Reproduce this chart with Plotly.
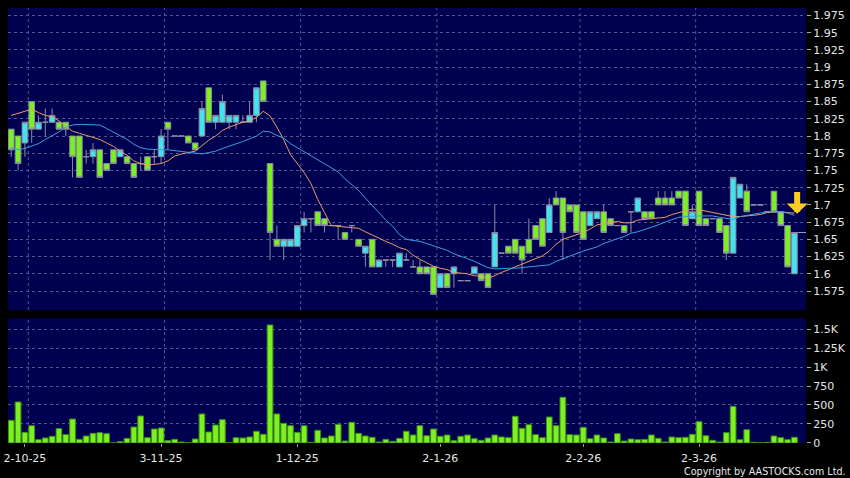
import plotly.graph_objects as go

# daily bars, oldest first (cyan = close above open, green = close below open)
opens = [1.81, 1.80, 1.79, 1.85, 1.81, 1.82, 1.82, 1.82, 1.82, 1.80,
         1.80, 1.77, 1.77, 1.78, 1.76, 1.78, 1.77, 1.77, 1.76, 1.76,
         1.77, 1.77, 1.77, 1.82, 1.80, 1.80, 1.80, 1.79, 1.80, 1.87,
         1.82, 1.82, 1.82, 1.82, 1.82, 1.82, 1.83, 1.88, 1.76, 1.65,
         1.64, 1.64, 1.64, 1.67, 1.68, 1.69, 1.68, 1.67, 1.67, 1.66,
         1.67, 1.65, 1.63, 1.65, 1.61, 1.62, 1.62, 1.61, 1.62, 1.61,
         1.61, 1.61, 1.61, 1.58, 1.60, 1.60, 1.59, 1.59, 1.60, 1.60,
         1.60, 1.61, 1.63, 1.64, 1.65, 1.64, 1.65, 1.67, 1.68, 1.66,
         1.71, 1.71, 1.70, 1.70, 1.69, 1.67, 1.68, 1.69, 1.68, 1.67,
         1.67, 1.69, 1.69, 1.69, 1.69, 1.71, 1.71, 1.71, 1.72, 1.72,
         1.68, 1.72, 1.68, 1.68, 1.68, 1.67, 1.63, 1.71, 1.72, 1.70,
         1.70, 1.69, 1.72, 1.69, 1.67, 1.60]
highs = [1.81, 1.80, 1.82, 1.85, 1.83, 1.84, 1.84, 1.82, 1.82, 1.80,
         1.80, 1.78, 1.79, 1.78, 1.76, 1.78, 1.78, 1.77, 1.76, 1.77,
         1.77, 1.78, 1.81, 1.82, 1.80, 1.80, 1.80, 1.79, 1.85, 1.87,
         1.83, 1.86, 1.83, 1.83, 1.83, 1.85, 1.87, 1.88, 1.76, 1.67,
         1.65, 1.65, 1.67, 1.69, 1.68, 1.69, 1.68, 1.67, 1.67, 1.66,
         1.67, 1.65, 1.64, 1.65, 1.62, 1.62, 1.62, 1.63, 1.63, 1.62,
         1.62, 1.61, 1.61, 1.60, 1.60, 1.61, 1.59, 1.59, 1.61, 1.60,
         1.60, 1.70, 1.63, 1.64, 1.65, 1.64, 1.68, 1.67, 1.68, 1.71,
         1.72, 1.71, 1.70, 1.70, 1.69, 1.69, 1.69, 1.70, 1.68, 1.67,
         1.67, 1.69, 1.71, 1.69, 1.69, 1.72, 1.72, 1.72, 1.72, 1.72,
         1.70, 1.72, 1.68, 1.68, 1.68, 1.67, 1.74, 1.73, 1.73, 1.70,
         1.70, 1.69, 1.72, 1.69, 1.67, 1.66]
lows = [1.77, 1.75, 1.77, 1.79, 1.81, 1.80, 1.82, 1.81, 1.80, 1.74,
        1.74, 1.76, 1.76, 1.74, 1.75, 1.76, 1.77, 1.76, 1.74, 1.75,
        1.75, 1.76, 1.76, 1.78, 1.80, 1.80, 1.79, 1.78, 1.80, 1.82,
        1.81, 1.82, 1.81, 1.81, 1.82, 1.82, 1.82, 1.85, 1.62, 1.64,
        1.62, 1.64, 1.64, 1.66, 1.66, 1.67, 1.66, 1.67, 1.65, 1.65,
        1.66, 1.64, 1.61, 1.61, 1.61, 1.61, 1.61, 1.61, 1.62, 1.61,
        1.60, 1.60, 1.57, 1.58, 1.58, 1.58, 1.59, 1.59, 1.60, 1.59,
        1.58, 1.61, 1.63, 1.63, 1.63, 1.60, 1.63, 1.65, 1.64, 1.66,
        1.70, 1.62, 1.69, 1.66, 1.65, 1.67, 1.68, 1.66, 1.67, 1.67,
        1.66, 1.66, 1.69, 1.68, 1.68, 1.70, 1.70, 1.70, 1.71, 1.67,
        1.68, 1.67, 1.67, 1.68, 1.66, 1.62, 1.63, 1.71, 1.69, 1.70,
        1.70, 1.69, 1.69, 1.67, 1.61, 1.60]
closes = [1.78, 1.76, 1.82, 1.81, 1.82, 1.82, 1.83, 1.81, 1.81, 1.77,
          1.74, 1.77, 1.78, 1.74, 1.75, 1.76, 1.78, 1.76, 1.74, 1.76,
          1.75, 1.77, 1.80, 1.81, 1.80, 1.80, 1.79, 1.78, 1.84, 1.82,
          1.83, 1.85, 1.83, 1.83, 1.82, 1.83, 1.87, 1.85, 1.66, 1.64,
          1.65, 1.65, 1.67, 1.68, 1.68, 1.67, 1.67, 1.67, 1.67, 1.65,
          1.67, 1.64, 1.64, 1.61, 1.62, 1.62, 1.62, 1.63, 1.62, 1.61,
          1.60, 1.60, 1.57, 1.60, 1.58, 1.61, 1.59, 1.59, 1.61, 1.59,
          1.58, 1.66, 1.63, 1.63, 1.63, 1.62, 1.63, 1.65, 1.64, 1.70,
          1.70, 1.66, 1.69, 1.66, 1.65, 1.69, 1.69, 1.66, 1.67, 1.67,
          1.66, 1.69, 1.71, 1.68, 1.68, 1.70, 1.70, 1.70, 1.71, 1.67,
          1.69, 1.67, 1.67, 1.68, 1.66, 1.63, 1.74, 1.73, 1.69, 1.70,
          1.70, 1.69, 1.69, 1.67, 1.61, 1.66]
volumes = [298, 540, 140, 228, 44, 66, 88, 189, 110, 316,
           48, 92, 127, 136, 123, 2, 18, 61, 210, 355,
           70, 184, 197, 31, 48, 13, 4, 53, 382, 145,
           237, 307, 4, 70, 66, 79, 154, 114, 1553, 382,
           259, 228, 140, 228, 9, 167, 66, 92, 246, 26,
           272, 127, 92, 75, 13, 48, 22, 61, 154, 105,
           228, 96, 184, 88, 105, 31, 88, 105, 57, 35,
           66, 105, 79, 70, 351, 193, 241, 110, 70, 342,
           228, 601, 110, 105, 206, 57, 105, 66, 13, 123,
           26, 53, 44, 48, 105, 61, 13, 79, 70, 75,
           114, 281, 96, 35, 13, 136, 482, 44, 175, 9,
           4, 9, 92, 70, 44, 75]
# moving averages as drawn (orange = short, blue = long)
ma_short = [1.830, 1.833, 1.837, 1.839, 1.834, 1.830, 1.828, 1.822, 1.814, 1.807,
            1.804, 1.801, 1.799, 1.795, 1.790, 1.785, 1.778, 1.772, 1.764, 1.760,
            1.758, 1.759, 1.760, 1.764, 1.771, 1.774, 1.776, 1.778, 1.786, 1.794,
            1.800, 1.808, 1.813, 1.817, 1.820, 1.822, 1.827, 1.836, 1.829, 1.813,
            1.795, 1.773, 1.760, 1.747, 1.731, 1.708, 1.689, 1.670, 1.669, 1.668,
            1.667, 1.666, 1.661, 1.656, 1.651, 1.647, 1.643, 1.638, 1.635, 1.627,
            1.621, 1.616, 1.611, 1.608, 1.606, 1.602, 1.601, 1.600, 1.597, 1.597,
            1.593, 1.598, 1.602, 1.606, 1.610, 1.613, 1.618, 1.622, 1.626, 1.633,
            1.643, 1.650, 1.653, 1.657, 1.660, 1.665, 1.671, 1.673, 1.675, 1.676,
            1.674, 1.674, 1.678, 1.679, 1.679, 1.681, 1.682, 1.686, 1.689, 1.692,
            1.694, 1.693, 1.691, 1.689, 1.687, 1.684, 1.683, 1.683, 1.684, 1.684,
            1.686, 1.689, 1.690, 1.690, 1.689, 1.688]
ma_long = [1.784, 1.780, 1.782, 1.786, 1.789, 1.795, 1.800, 1.806, 1.813, 1.816,
           1.817, 1.817, 1.817, 1.816, 1.811, 1.806, 1.801, 1.795, 1.788, 1.783,
           1.781, 1.780, 1.780, 1.780, 1.779, 1.778, 1.777, 1.775, 1.774, 1.776,
           1.778, 1.782, 1.785, 1.788, 1.792, 1.796, 1.800, 1.807, 1.806, 1.801,
           1.797, 1.789, 1.783, 1.778, 1.771, 1.765, 1.760, 1.754, 1.748, 1.738,
           1.730, 1.721, 1.710, 1.699, 1.688, 1.678, 1.669, 1.657, 1.650, 1.649,
           1.647, 1.644, 1.641, 1.638, 1.634, 1.629, 1.626, 1.622, 1.618, 1.613,
           1.609, 1.607, 1.608, 1.608, 1.608, 1.609, 1.610, 1.610, 1.611, 1.613,
           1.618, 1.622, 1.625, 1.629, 1.633, 1.636, 1.639, 1.644, 1.648, 1.651,
           1.654, 1.659, 1.661, 1.664, 1.667, 1.671, 1.675, 1.679, 1.682, 1.683,
           1.684, 1.684, 1.684, 1.684, 1.682, 1.680, 1.679, 1.683, 1.685, 1.687,
           1.688, 1.690, 1.690, 1.690, 1.688, 1.685]

date_ticks = [2, 22, 42, 63, 84, 101]
date_labels = ["2-10-25", "3-11-25", "1-12-25", "2-1-26", "2-2-26", "2-3-26"]
date_grid = [2.5, 22.5, 42.5, 62.5, 83.5, 100.5]
price_ticks = [1.575, 1.6, 1.625, 1.65, 1.675, 1.7, 1.725, 1.75, 1.775,
               1.8, 1.825, 1.85, 1.875, 1.9, 1.925, 1.95, 1.975]
price_labels = ["1.575", "1.6", "1.625", "1.65", "1.675", "1.7", "1.725", "1.75", "1.775",
                "1.8", "1.825", "1.85", "1.875", "1.9", "1.925", "1.95", "1.975"]
vol_ticks = [0, 250, 500, 750, 1000, 1250, 1500]
vol_labels = ["0", "250", "500", "750", "1K", "1.25K", "1.5K"]

bar_index = list(range(len(closes)))
x_range = [-0.48, 116.7]

NAVY = "#000050"
GRID = "#56568e"
CYAN = "#3fe4ee"
LIME = "#7cf020"
OUTLINE = "#8c8ca4"
TEXT = "#e6e6e6"

fig = go.Figure()
fig.add_trace(go.Candlestick(
    x=bar_index, open=opens, high=highs, low=lows, close=closes,
    increasing=dict(fillcolor=CYAN, line=dict(color=OUTLINE, width=1)),
    decreasing=dict(fillcolor=LIME, line=dict(color=OUTLINE, width=1)),
    whiskerwidth=0, hoverinfo="skip", xaxis="x", yaxis="y",
))
fig.add_trace(go.Scatter(x=bar_index, y=ma_short, mode="lines",
                         line=dict(color="#f09a6a", width=1), hoverinfo="skip"))
fig.add_trace(go.Scatter(x=bar_index, y=ma_long, mode="lines",
                         line=dict(color="#3aa0e0", width=1), hoverinfo="skip"))
# last price marker to the right of the final bar
fig.add_trace(go.Scatter(x=[bar_index[-1] + 0.45, x_range[1]], y=[closes[-1], closes[-1]],
                         mode="lines", line=dict(color="#a0a0b0", width=1), hoverinfo="skip"))
fig.add_trace(go.Bar(
    x=bar_index, y=volumes, width=0.84,
    marker=dict(color=LIME, line=dict(color="#3f8f14", width=1)),
    xaxis="x2", yaxis="y2", hoverinfo="skip",
))

for g in date_grid:
    for yref in ("y domain", "y2 domain"):
        fig.add_shape(type="line", xref="x", yref=yref, x0=g, x1=g, y0=0, y1=1,
                      line=dict(color=GRID, width=1, dash="3px,3px"), layer="below")

# signal arrow above the last bar
fig.add_annotation(x=bar_index[-1] + 0.4, y=1.687, ax=bar_index[-1] + 0.4, ay=1.721,
                   xref="x", yref="y", axref="x", ayref="y", text="",
                   showarrow=True, arrowhead=1, arrowsize=0.58, arrowwidth=6,
                   arrowcolor="#ffcc22", standoff=0, startstandoff=0)

fig.add_annotation(x=1.0525, y=-0.066, xref="paper", yref="paper",
                   text="Copyright by AASTOCKS.com Ltd.", showarrow=False,
                   xanchor="right", yanchor="middle", font=dict(size=9.6, color=TEXT))

axis_common = dict(showline=False, zeroline=False)
fig.update_layout(
    width=850, height=478,
    margin=dict(l=4, r=42, t=8, b=35),
    paper_bgcolor="black", plot_bgcolor=NAVY,
    showlegend=False, hovermode=False,
    boxgap=0.18, boxgroupgap=0,
    font=dict(family="DejaVu Sans", size=11, color=TEXT),
    xaxis=dict(domain=[0, 1], anchor="y", range=x_range, showticklabels=False,
               showgrid=False, ticks="", rangeslider=dict(visible=False), **axis_common),
    xaxis2=dict(domain=[0, 1], anchor="y2", matches="x", range=x_range,
                tickvals=date_ticks, ticktext=date_labels, ticks="outside", ticklen=3,
                tickcolor="#9a9a9a", showgrid=False, ticklabelstandoff=2,
                ticklabeloverflow="allow", **axis_common),
    yaxis=dict(domain=[0.3057, 1], anchor="x", side="right", range=[1.5474, 1.9859],
               tickvals=price_ticks, ticktext=price_labels, ticks="outside", ticklen=4,
               tickcolor="#a8a8a8", gridcolor=GRID, griddash="3px,3px", gridwidth=1,
               **axis_common),
    yaxis2=dict(domain=[0, 0.2867], anchor="x2", side="right", range=[0, 1641],
                tickvals=vol_ticks, ticktext=vol_labels, ticks="outside", ticklen=4,
                tickcolor="#a8a8a8", gridcolor=GRID, griddash="3px,3px", gridwidth=1,
                **axis_common),
)

fig.write_html("out.html", config={"displayModeBar": False},
               post_script="document.body.style.margin='0';")
